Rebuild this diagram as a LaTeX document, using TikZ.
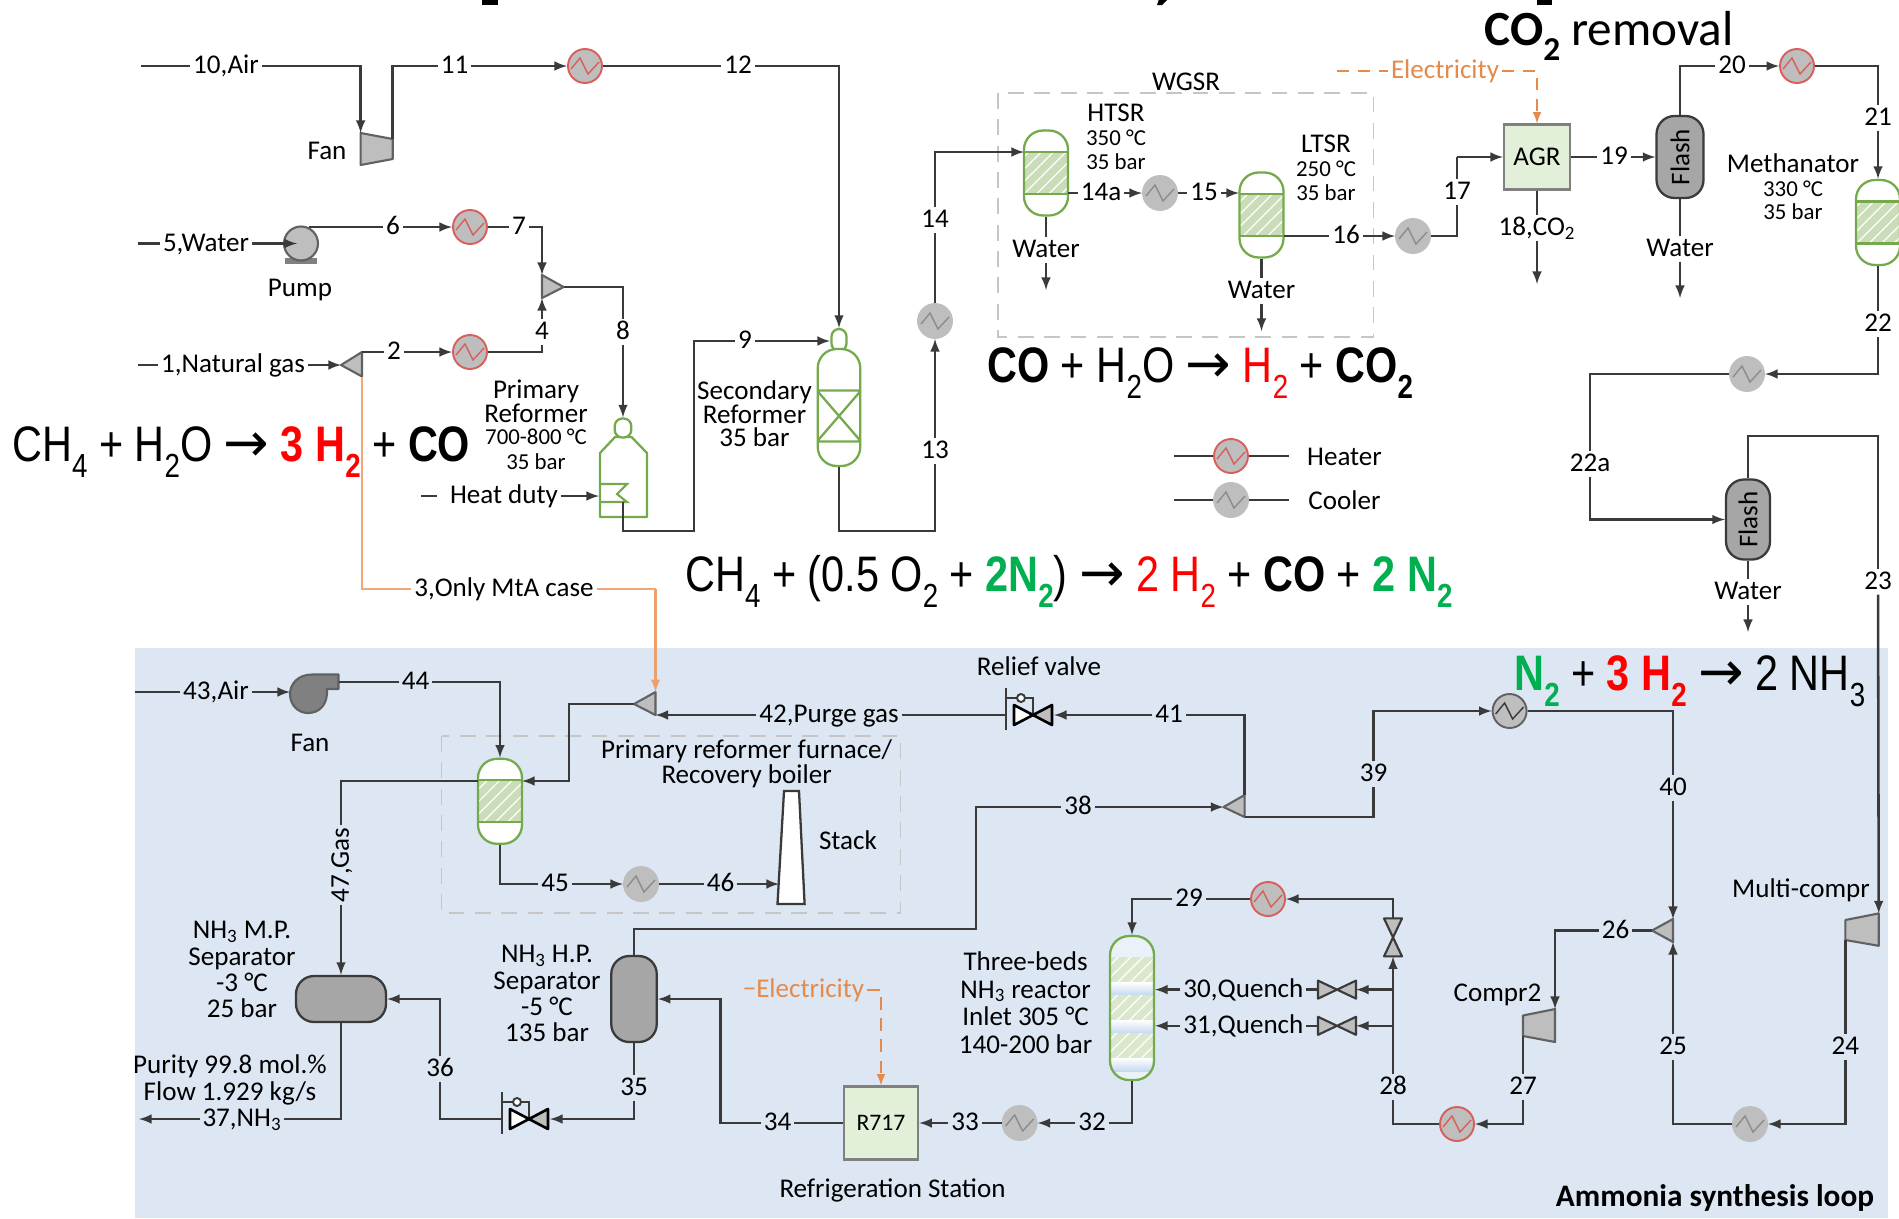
\documentclass[tikz,border=0pt]{standalone}
\usepackage{fontspec}
\usepackage{xcolor}
\setmainfont{Carlito}
\newfontfamily\eqfont[FakeStretch=.83]{Liberation Sans}
\newfontfamily\arrowfont{DejaVu Sans}
\usetikzlibrary{patterns.meta}
\definecolor{loopblue}{HTML}{DCE7F3}
\definecolor{bandblue}{HTML}{C6D9EE}
\definecolor{pipecol}{HTML}{3A3A3A}
\definecolor{hxgray}{HTML}{BEBEBE}
\definecolor{heatred}{HTML}{D8605A}
\definecolor{vesselgreen}{HTML}{74A94C}
\definecolor{bedgreen}{HTML}{CBDDB8}
\definecolor{unitgreen}{HTML}{E2EFD9}
\definecolor{sepgray}{HTML}{A6A6A6}
\definecolor{streamorange}{HTML}{F0A878}
\definecolor{elecorange}{HTML}{E58A4A}
\definecolor{eqred}{HTML}{FF0000}
\definecolor{eqgreen}{HTML}{00B050}
\newcommand{\lblfont}{\fontsize{15.4}{13.4}\selectfont}
\newcommand{\smlfont}{\fontsize{13}{13.4}\selectfont}
\newcommand{\eqnfont}{\eqfont\fontsize{28.4}{28}\selectfont}
\newcommand{\eqsub}[1]{\raisebox{-.32em}{\fontsize{19}{19}\selectfont #1}}
\newcommand{\eqarrow}{{\arrowfont\fontsize{31}{28}\selectfont →}}
\tikzset{
pipe/.style={draw=pipecol,line width=1.45pt},
flow/.style={pipe,-latex},
orangeline/.style={draw=streamorange,line width=1.4pt},
elec/.style={draw=elecorange,line width=1.2pt,dashed,dash pattern=on 7pt off 5pt},
groupbox/.style={draw=gray!45,line width=1.1pt,dashed,dash pattern=on 9pt off 6pt},
equip/.style={draw=pipecol!80,fill=hxgray,line width=1.2pt,line join=round},
num/.style={font=\lblfont,inner sep=1.5pt,text height=10pt,text depth=1pt},
note/.style={font=\lblfont,align=center,inner sep=0pt,yshift=-1pt},
eqn/.style={font=\eqnfont,inner sep=0pt,anchor=west},
heatx/.style 2 args={circle,draw=#1,fill=hxgray,line width=1.1pt,minimum size=.68cm,inner sep=0pt,
  path picture={\draw[#2,line width=.8pt,shift={(path picture bounding box.center)}] (-14,3) -- (-5,-8) -- (3,8) -- (14,-4);}},
heater/.style={heatx={heatred}{heatred}},
cooler/.style={heatx={hxgray}{gray!90}},
loopheater/.style={heatx={pipecol!80}{pipecol}},
bedvessel/.style={draw=vesselgreen,fill=white,line width=1.3pt,rounded corners=.38cm,minimum width=.88cm,minimum height=1.7cm,inner sep=0pt,
  path picture={\begin{scope}[shift={(path picture bounding box.center)},sharp corners]
    \fill[bedgreen] (-24,-21) rectangle (24,21);
    \fill[pattern={Lines[angle=45,distance=5pt,line width=.7pt]},pattern color=white] (-24,-21) rectangle (24,21);
    \draw[vesselgreen,line width=1.3pt] (-24,-21) -- (24,-21) (-24,21) -- (24,21);
  \end{scope}}},
grayvessel/.style={draw=pipecol,fill=sepgray,line width=1.3pt,rounded corners=.36cm,inner sep=0pt},
unitbox/.style={draw=gray,fill=unitgreen,line width=1.2pt,inner sep=0pt,font=\lblfont},
bowtie/.pic={\draw[equip,draw=pipecol] (-19,-9) -- (19,9) -- (19,-9) -- (-19,9) -- cycle;
  \coordinate (-e) at (19,0); \coordinate (-w) at (-19,0);},
reliefvalve/.pic={\draw[pipecol,line width=1.2pt] (0,0) -- (0,-17) -- (-27,-17);
  \draw[pipecol,line width=1.2pt] (-27,-27) -- (-27,15);
  \draw[pipecol,line width=1.1pt,fill=white] (-12,-17) circle [radius=4];
  \draw[equip,draw=black,line width=1.5pt,fill=white] (-19,-10) -- (0,0) -- (-19,10) -- cycle;
  \draw[equip,draw=black,line width=1.5pt] (19,-10) -- (0,0) -- (19,10) -- cycle;
  \coordinate (-e) at (21,0); \coordinate (-w) at (-27,0);},
pumpbody/.pic={\fill[gray] (-16,14) rectangle (16,20);
  \draw[equip] (0,0) circle [radius=17];
  \coordinate (-in) at (-4,0); \coordinate (-out) at (8,-16.5);}
}
\begin{document}
\begin{tikzpicture}[x=0.02cm,y=-0.02cm,>=latex]
\path[use as bounding box,clip] (0,0) rectangle (1899,1218);
\fill[white] (0,0) rectangle (1899,1218);
\fill[loopblue] (135,648) rectangle (1888,1218);
\fill (482,-1) rectangle (498,5);
\fill (1537,-1) rectangle (1552,5);
\fill (1159,-1) -- (1168,-1) -- (1162,5) -- (1157,5) -- cycle;
\draw[groupbox] (998,93) rectangle (1373.5,336.6);
\draw[groupbox] (441.5,736) rectangle (900.5,913.4);

\node[note] (wgsr) at (1186,80) {WGSR};
\node[eqn] (eqsmr) at (12,452) {CH\eqsub{4} + H\eqsub{2}O \eqarrow{} \textcolor{eqred}{\textbf{3 H\eqsub{2}}} + \textbf{CO}};
\node[eqn] (eqwgs) at (987,373) {\textbf{CO} + H\eqsub{2}O \eqarrow{} \textcolor{eqred}{H\eqsub{2}} + \textbf{CO\eqsub{2}}};
\node[eqn] (eqatr) at (685,581) {CH\eqsub{4} + (0.5 O\eqsub{2} + \textcolor{eqgreen}{\textbf{2N\eqsub{2}}}) \eqarrow{} \textcolor{eqred}{2 H\eqsub{2}} + \textbf{CO} + \textcolor{eqgreen}{\textbf{2 N\eqsub{2}}}};
\node[eqn] (eqnh3) at (1514,681) {\textcolor{eqgreen}{\textbf{N\eqsub{2}}} + \textcolor{eqred}{\textbf{3 H\eqsub{2}}} \eqarrow{} 2 NH\eqsub{3}};
\node[eqn,font=\fontsize{28}{28}\selectfont] (eqrem) at (1484,36) {\textbf{CO\raisebox{-.3em}{\fontsize{19}{19}\selectfont 2}} removal};

\coordinate (air in) at (140.6,66);
\node[num] (s10) at (226,66) {10,Air};
\draw[equip] (360.6,133) coordinate (fan in) -- (392.7,139) coordinate (fan out) -- (392.7,159) -- (360.6,165) -- cycle;
\node[note] (fanlbl) at (327,149) {Fan};
\node[num] (s11) at (454.5,66) {11};
\node[heater] (h11) at (585,66) {};
\node[num] (s12) at (738,66) {12};
\draw[pipe] (air in) -- (s10);
\draw[flow] (s10) -| (fan in);
\draw[pipe] (fan out) |- (s11);
\draw[flow] (s11) -- (h11);
\draw[pipe] (h11) -- (s12);

\coordinate (water in) at (138,243.5);
\node[num] (s5) at (206,243.5) {5,Water};
\pic (pump) at (301,243.5) {pumpbody};
\node[note] (pumplbl) at (300,288) {Pump};
\node[num] (s6) at (393,227) {6};
\node[heater] (h6) at (470,227) {};
\node[num] (s7) at (519,227) {7};
\draw[equip] (542,275) coordinate (mix top) -- (563.6,287) coordinate (mix out) -- (542,298) coordinate (mix bot) -- cycle;
\draw[pipe] (water in) -- (s5);
\draw[flow] (s5) -- (pump-in);
\draw[pipe] (pump-out) -- (s6);
\draw[flow] (s6) -- (h6);
\draw[pipe] (h6) -- (s7);
\draw[flow] (s7) -| (mix top);

\coordinate (ng in) at (138,365);
\node[num] (s1) at (233,365) {1,Natural gas};
\draw[equip] (362,352) coordinate (spla top) -- (341,365) coordinate (spla tip) -- (362,376.5) coordinate (spla bot) -- cycle;
\node[num] (s2) at (394,352) {2};
\node[heater] (h2) at (470,352) {};
\node[num] (s4) at (542,332) {4};
\node[num] (s8) at (623,332) {8};
\draw[pipe] (ng in) -- (s1);
\draw[flow] (s1) -- (spla tip);
\draw[pipe] (spla top) -- (s2);
\draw[flow] (s2) -- (h2);
\draw[pipe] (h2) -| (s4);
\draw[flow] (s4) -- (mix bot);

\draw[draw=vesselgreen,line width=1.3pt,line join=round] (615,437) -- (600,453) -- (600,517) -- (647,517) -- (647,453) -- (631.5,437) -- cycle;
\draw[draw=vesselgreen,line width=1.2pt] (600,484) -- (627,484) -- (617,494) -- (627,502) -- (600,502);
\node[draw=vesselgreen,fill=white,line width=1.3pt,rounded corners=.15cm,minimum width=.33cm,minimum height=.38cm,inner sep=0pt] (rf neck) at (623,428) {};
\coordinate (rf out) at (623,502);
\coordinate (rf heat) at (599,496);
\coordinate (heat in) at (421,496);
\coordinate (heat mid) at (437,496);
\coordinate (bend9) at (694,531);
\node[num] (sheat) at (504,496) {Heat duty};
\node[note] (rflbl) at (536,423) {Primary\\Reformer\\[-1pt]{\smlfont 700-800 °C}\\[1pt]{\smlfont 35 bar}};
\draw[pipe] (mix out) -| (s8);
\draw[flow] (s8) -- (rf neck.north);
\draw[pipe] (heat in) -- (heat mid);
\draw[flow] (sheat) -- (rf heat);

\node[draw=vesselgreen,fill=white,line width=1.3pt,rounded corners=.15cm,minimum width=.3cm,minimum height=.44cm,inner sep=0pt] (sr neck) at (839,340) {};
\node[draw=vesselgreen,fill=white,line width=1.3pt,rounded corners=.38cm,minimum width=.85cm,minimum height=2.34cm,inner sep=0pt,
  path picture={\draw[vesselgreen,line width=1.3pt,sharp corners,shift={(path picture bounding box.center)}] (-22,-17) rectangle (22,34) (-22,-17) -- (22,34) (22,-17) -- (-22,34);}] (sr) at (839,407.5) {};
\coordinate (sr in) at (830,341);
\coordinate (bend13) at (935,531);
\node[num] (s9) at (745,341) {9};
\node[note] (srlbl) at (754.5,412) {Secondary\\Reformer\\35 bar};
\node[num] (s13) at (935,451) {13};
\node[cooler] (c14) at (935,321) {};
\node[num] (s14) at (935,220) {14};
\draw[pipe] (rf out) |- (bend9) |- (s9);
\draw[flow] (s9) -- (sr in);
\draw[flow] (s12) -| (sr neck.north);
\draw[pipe] (sr.south) |- (bend13) -- (s13);
\draw[flow] (s13) -- (c14);
\draw[pipe] (c14) -- (s14);

\node[bedvessel] (htsr) at (1046,173) {};
\coordinate (htsr in) at (1024,152);
\coordinate (htsr out) at (1068,193);
\node[note] (htsrlbl) at (1116,135) {HTSR\\{\smlfont 350 °C}\\{\smlfont 35 bar}};
\node[num] (s14a) at (1101,193) {14a};
\node[cooler] (c15) at (1160,193) {};
\node[num] (s15) at (1204,193) {15};
\node[bedvessel] (ltsr) at (1261.5,215) {};
\coordinate (ltsr in) at (1239,193);
\coordinate (ltsr out) at (1284,236);
\node[note] (ltsrlbl) at (1326,166) {LTSR\\{\smlfont 250 °C}\\{\smlfont 35 bar}};
\node[num] (wa1) at (1046,250) {Water};
\coordinate (wa1 out) at (1046,290);
\node[num] (wa2) at (1261.5,291) {Water};
\coordinate (wa2 out) at (1261.5,331);
\node[num] (s16) at (1346,236) {16};
\node[cooler] (c16) at (1413,236) {};
\node[num] (s17) at (1457,192) {17};
\draw[flow] (s14) |- (htsr in);
\draw[pipe] (htsr out) -- (s14a);
\draw[flow] (s14a) -- (c15);
\draw[pipe] (c15) -- (s15);
\draw[flow] (s15) -- (ltsr in);
\draw[pipe] (htsr.south) -- (wa1);
\draw[flow] (wa1) -- (wa1 out);
\draw[pipe] (ltsr.south) -- (wa2);
\draw[flow] (wa2) -- (wa2 out);
\draw[pipe] (ltsr out) -- (s16);
\draw[flow] (s16) -- (c16);
\draw[pipe] (c16) -| (s17);

\node[unitbox,minimum width=1.32cm,minimum height=1.3cm] (agr) at (1537,157) {AGR};
\coordinate (el1 in) at (1337,70.6);
\node[num,text=elecorange] (sel1) at (1445,70.6) {Electricity};
\node[num] (s18) at (1537,228) {18,CO\textsubscript{2}};
\coordinate (co2 out) at (1537,284);
\node[num] (s19) at (1614,157) {19};
\node[grayvessel,rotate=90,minimum width=1.64cm,minimum height=.94cm,font=\lblfont] (fla) at (1680,157) {Flash};
\node[num] (s20) at (1732,66) {20};
\node[heater] (h20) at (1797,66) {};
\node[num] (s21) at (1878,118) {21};
\node[num] (wa3) at (1680,249) {Water};
\coordinate (wa3 out) at (1680,298);
\node[note] (methlbl) at (1793,185) {Methanator\\{\smlfont 330 °C}\\{\smlfont 35 bar}};
\node[bedvessel] (meth) at (1878,222.5) {};
\node[num] (s22) at (1878,324) {22};
\node[cooler] (c22) at (1747,374) {};
\node[num] (s22a) at (1590,464) {22a};
\node[grayvessel,rotate=90,minimum width=1.6cm,minimum height=.88cm,font=\lblfont] (flb) at (1748,519.5) {Flash};
\node[num] (wa4) at (1748,592) {Water};
\coordinate (wa4 out) at (1748,632);
\coordinate (bend23) at (1878,436);
\coordinate (bend17) at (1457,157);
\node[num] (s23) at (1878,582) {23};
\draw[elec] (el1 in) -- (sel1);
\draw[elec,-latex] (sel1) -| (agr.north);
\draw[pipe] (agr.south) -- (s18);
\draw[flow] (s18) -- (co2 out);
\draw[pipe] (bend17) -- (s17);
\draw[flow] (bend17) -- (agr.west);
\draw[pipe] (agr.east) -- (s19);
\draw[flow] (s19) -- (fla.north);
\draw[pipe] (fla.east) |- (s20);
\draw[flow] (s20) -- (h20);
\draw[pipe] (h20) -| (s21);
\draw[flow] (s21) -- (meth.north);
\draw[pipe] (fla.west) -- (wa3);
\draw[flow] (wa3) -- (wa3 out);
\draw[pipe] (meth.south) -- (s22);
\draw[flow] (s22) |- (c22);
\draw[pipe] (c22) -| (s22a);
\draw[flow] (s22a) |- (flb.north);
\draw[pipe] (flb.east) |- (bend23) -- (s23);
\draw[pipe] (flb.west) -- (wa4);
\draw[flow] (wa4) -- (wa4 out);

\node[heater] (lgh) at (1231,456) {};
\coordinate (lgh a) at (1174,456);
\coordinate (lgh b) at (1289,456);
\node[note] (lghlbl) at (1344.5,455) {Heater};
\node[cooler] (lgc) at (1231,500) {};
\coordinate (lgc a) at (1174,500);
\coordinate (lgc b) at (1289,500);
\node[note] (lgclbl) at (1344.5,498) {Cooler};
\draw[pipe,line width=1pt] (lgh a) -- (lgh);
\draw[pipe,line width=1pt] (lgh) -- (lgh b);
\draw[pipe,line width=1pt] (lgc a) -- (lgc);
\draw[pipe,line width=1pt] (lgc) -- (lgc b);

\node[num] (s3) at (504,589) {3,Only MtA case};
\draw[equip] (655.5,692) coordinate (splb top) -- (634,704) coordinate (splb tip) -- (655.5,715) coordinate (splb low) -- cycle;
\coordinate (bend3) at (655.5,589);
\draw[orangeline] (spla bot) |- (s3);
\draw[orangeline] (s3) -- (bend3);
\draw[orangeline,draw=elecorange!80!white,-latex] (bend3) -- (splb top);

\coordinate (air2 in) at (135,692);
\node[num] (s43) at (216,692) {43,Air};
\draw[equip,fill=gray] (338.5,674.5) coordinate (bl top) -- (312,674.5) .. controls (298,674.5) and (290,684) .. (290,694) .. controls (290,705) and (298,713) .. (308,713) .. controls (320,713) and (328,704) .. (327,689) -- (338.5,689) -- cycle;
\coordinate (bl in) at (290,692);
\coordinate (bl out) at (338.5,682);
\node[note] (bllbl) at (310,741) {Fan};
\node[num] (s44) at (415.5,682) {44};
\node[bedvessel] (burn) at (500,801.3) {};
\coordinate (burn in) at (522,781);
\coordinate (burn gas) at (478,781);
\coordinate (bend42) at (569,704);
\node[num] (s42) at (829,715) {42,Purge gas};
\pic (rva) at (1033,715) {reliefvalve};
\node[note] (rvlbl) at (1039,664) {Relief valve};
\node[num] (s41) at (1169,715) {41};
\node[note] (furnlbl) at (746.6,762) {Primary reformer furnace/\\[1pt]Recovery boiler};
\draw[draw=pipecol,fill=white,line width=1.3pt] (784,791) -- (799,791) -- (804.6,904) -- (777.5,904) -- cycle;
\coordinate (stack in) at (779,884);
\node[note] (stacklbl) at (848,838) {Stack};
\node[num] (s45) at (555,884) {45};
\node[cooler] (c45) at (641,884) {};
\node[num] (s46) at (720.6,884) {46};
\node[num,rotate=90] (s47) at (341,865) {47,Gas};
\node[grayvessel,minimum width=1.8cm,minimum height=.92cm] (mp) at (341,999) {};
\node[note] (mplbl) at (242,968) {NH\textsubscript{3} M.P.\\[1.6pt]Separator\\[1.6pt]-3 °C\\[1.6pt]25 bar};
\node[note] (puritylbl) at (230,1078) {Purity 99.8 mol.\%\\[1.6pt]Flow 1.929 kg/s};
\node[num] (s37) at (242,1119) {37,NH\textsubscript{3}};
\coordinate (nh3 out) at (139,1119);
\node[num] (s36) at (440,1069) {36};
\pic (rvb) at (529,1119) {reliefvalve};
\node[num] (s35) at (634,1088) {35};
\node[grayvessel,minimum width=.91cm,minimum height=1.72cm] (hp) at (634,999) {};
\node[note] (hplbl) at (547,992) {NH\textsubscript{3} H.P.\\[1.6pt]Separator\\[1.6pt]-5 °C\\[1.6pt]135 bar};
\node[unitbox,minimum width=1.49cm,minimum height=1.46cm,font=\fontsize{13.5}{13.5}\selectfont] (rsta) at (881,1123) {R717};
\node[note] (rstalbl) at (892.5,1189) {Refrigeration Station};
\node[num] (s34) at (777.5,1123) {34};
\coordinate (bend34) at (720.6,1123);
\node[num,text=elecorange] (sel2) at (803.5,990) {−Electricity};
\node[num] (s33) at (965,1123) {33};
\node[cooler] (c33) at (1019.6,1123) {};
\node[num] (s32) at (1092,1123) {32};
\draw[pipe] (air2 in) -- (s43);
\draw[flow] (s43) -- (bl in);
\draw[pipe] (bl out) -- (s44);
\draw[flow] (s44) -| (burn.north);
\draw[flow] (splb tip) -- (bend42) |- (burn in);
\draw[flow] (s42) -- (splb low);
\draw[pipe] (rva-w) -- (s42);
\draw[flow] (s41) -- (rva-e);
\draw[pipe] (burn gas) -| (s47);
\draw[flow] (s47) -- (mp.north);
\draw[pipe] (burn.south) |- (s45);
\draw[flow] (s45) -- (c45);
\draw[pipe] (c45) -- (s46);
\draw[flow] (s46) -- (stack in);
\draw[pipe] (rvb-w) -| (s36);
\draw[flow] (s36) |- (mp.east);
\draw[pipe] (mp.south) |- (s37);
\draw[flow] (s37) -- (nh3 out);
\draw[pipe] (hp.south) -- (s35);
\draw[flow] (s35) |- (rvb-e);
\draw[pipe] (rsta.west) -- (s34);
\draw[flow] (s34) -- (bend34) |- (hp.east);
\draw[flow] (s33) -- (rsta.east);
\draw[pipe] (c33) -- (s33);
\draw[flow] (s32) -- (c33);
\draw[elec,-latex] (sel2) -| (rsta.north);

\coordinate (bend38) at (976,929);
\node[num] (s38) at (1078,807) {38};
\draw[equip] (1244.6,795) coordinate (splc top) -- (1223.5,807) coordinate (splc tip) -- (1244.6,817) coordinate (splc bot) -- cycle;
\node[num] (s39) at (1373.5,774) {39};
\node[loopheater] (h39) at (1509.6,711) {};
\node[num] (s40) at (1673,788) {40};
\draw[equip] (1673,919) coordinate (mixb top) -- (1652,930.5) coordinate (mixb tip) -- (1673,942) coordinate (mixb bot) -- cycle;
\node[num] (s26) at (1615.5,930.5) {26};
\draw[equip] (1555,1009) coordinate (cpa in) -- (1523,1015.5) -- (1523,1036) coordinate (cpa out) -- (1555,1042) -- cycle;
\node[note] (cpalbl) at (1497.5,993) {Compr2};
\node[num] (s27) at (1523,1087) {27};
\node[heater] (h27) at (1457,1124) {};
\node[num] (s28) at (1393,1087) {28};
\pic[rotate=90] (vtop) at (1393,937.4) {bowtie};
\node[heater] (h29) at (1268,899) {};
\node[num] (s29) at (1189,899) {29};
\node[draw=vesselgreen,fill=loopblue!60!white,line width=1.3pt,rounded corners=.38cm,minimum width=.88cm,minimum height=2.88cm,inner sep=0pt,
  path picture={\begin{scope}[shift={(path picture bounding box.center)},sharp corners]
    \foreach \bedy in {-51,-13,25} {
      \fill[bedgreen!70] (-24,\bedy) rectangle (24,\bedy+25);
      \fill[pattern={Lines[angle=45,distance=5pt,line width=.7pt]},pattern color=white] (-24,\bedy) rectangle (24,\bedy+25);
      \fill[top color=white,bottom color=bandblue] (-24,\bedy+25) rectangle (24,\bedy+38);
    }
  \end{scope}}] (rctr) at (1132,1008) {};
\node[note] (rctrlbl) at (1025.6,1001) {Three-beds\\[2.4pt]NH\textsubscript{3} reactor\\[2.4pt]Inlet 305 °C\\[2.4pt]140-200 bar};
\coordinate (brancha) at (1393,989.6);
\coordinate (branchb) at (1393,1025.8);
\pic (vq30) at (1337,989.6) {bowtie};
\pic (vq31) at (1337,1025.8) {bowtie};
\node[num] (s30) at (1243.4,989.6) {30,Quench};
\node[num] (s31) at (1243.4,1025.8) {31,Quench};
\coordinate (rctr a) at (1155,989.6);
\coordinate (rctr b) at (1155,1025.8);
\node[num] (s25) at (1673,1047) {25};
\node[cooler] (c25) at (1750,1124) {};
\node[num] (s24) at (1845.4,1047) {24};
\draw[equip] (1878.7,913.4) coordinate (mc in) -- (1845.4,920) -- (1845.4,940) coordinate (mc out) -- (1878.7,945.8) -- cycle;
\node[note] (mclbl) at (1801,889) {Multi-compr};
\node[note,font=\fontsize{17.8}{17.8}\selectfont\bfseries] (looplbl) at (1715,1196) {Ammonia synthesis loop};
\draw[pipe] (hp.north) |- (bend38) |- (s38);
\draw[flow] (s38) -- (splc tip);
\draw[pipe] (splc top) |- (s41);
\draw[pipe] (splc bot) -| (s39);
\draw[flow] (s39) |- (h39);
\draw[pipe] (h39) -| (s40);
\draw[flow] (s40) -- (mixb top);
\draw[pipe] (mixb tip) -- (s26);
\draw[flow] (s26) -| (cpa in);
\draw[pipe] (cpa out) -- (s27);
\draw[flow] (s27) |- (h27);
\draw[pipe] (h27) -| (s28);
\draw[flow] (s28) -- (vtop-w);
\draw[flow] (vtop-e) |- (h29);
\draw[pipe] (h29) -- (s29);
\draw[flow] (s29) -| (rctr.north);
\draw[flow] (brancha) -- (vq30-e);
\draw[flow] (branchb) -- (vq31-e);
\draw[pipe] (vq30-w) -- (s30);
\draw[pipe] (vq31-w) -- (s31);
\draw[flow] (s30) -- (rctr a);
\draw[flow] (s31) -- (rctr b);
\draw[pipe] (rctr.south) |- (s32);
\draw[pipe] (mc out) -- (s24);
\draw[flow] (s24) |- (c25);
\draw[pipe] (c25) -| (s25);
\draw[flow] (s25) -- (mixb bot);
\draw[flow] (s23) -- (mc in);
\end{tikzpicture}
\end{document}
